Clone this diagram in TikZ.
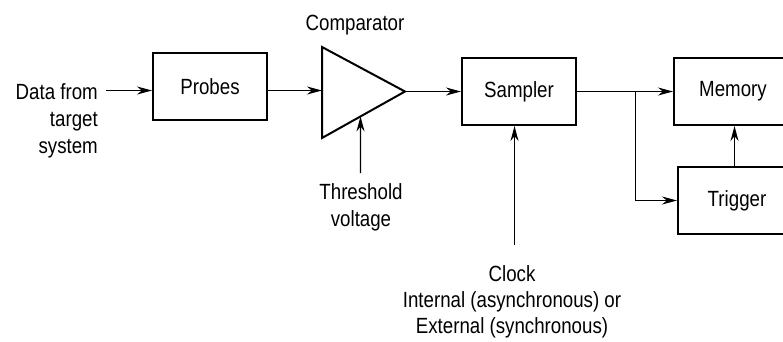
\documentclass[tikz,border=0pt]{standalone}
\usepackage{fontspec}
\setmainfont{Liberation Sans}[FakeStretch=0.85]
\usepackage{tikz}
\usetikzlibrary{arrows.meta, positioning, calc}

\begin{document}
\begin{tikzpicture}[x=1pt, y=-1pt,
  blk/.style={draw, line width=2pt, minimum width=114pt, minimum height=67pt, inner sep=0pt, font=\fontsize{22}{26}\selectfont},
  lbl/.style={inner sep=0pt, font=\fontsize{22}{27}\selectfont},
  arr/.style={-{Stealth[length=15pt, width=8pt]}, line width=1.3pt},
]
  \useasboundingbox (0,0) rectangle (783,341);
  % blocks
  \node[blk] (probes) at (210,86.5) {Probes};
  \node[blk] (sampler) at (519,91.5) {Sampler};
  \node[blk, minimum width=118pt] (memory) at (733,91.5) {Memory};
  \node[blk, minimum width=118pt] (trigger) at (737,200.5) {Trigger};
  % comparator
  \coordinate (cmptop) at (322,47);
  \coordinate (cmpbot) at (322,138);
  \coordinate (cmpout) at (405,91.5);
  \draw[line width=2pt, line join=miter] (cmptop) -- (cmpbot) -- (cmpout) -- cycle;
  \node[lbl] (cmplbl) at (355,25) {Comparator};
  % labels
  \node[lbl, align=right, anchor=north east] (data) at (98,83) {Data from\\target\\system};
  \node[lbl, align=center, anchor=north] (thresh) at (361,183) {Threshold\\voltage};
  \node[lbl, align=center, anchor=north, font=\fontsize{22}{26}\selectfont] (clock) at (512,265) {Clock\\Internal (asynchronous) or\\External (synchronous)};
  % connectors
  \coordinate (datain) at (106,90.5);
  \coordinate (thrin) at (360.5,173);
  \coordinate (clkin) at (514.5,245);
  \coordinate (split) at (635.5,91.5);
  \draw[arr] (datain) -- (datain -| probes.west);
  \draw[arr] (probes.east |- datain) -- (cmptop |- datain);
  \draw[arr] (thrin) -- ($(cmpbot)!0.464!(cmpout)$);
  \draw[arr] (cmpout) -- (sampler.west |- cmpout);
  \draw[arr] (clkin) -- (clkin |- sampler.south);
  \draw[arr] (sampler.east) -- (memory.west);
  \draw[arr] (split) |- (trigger.west);
  \draw[arr] (trigger.north -| 734.5,0) -- (memory.south -| 734.5,0);
\end{tikzpicture}
\end{document}
